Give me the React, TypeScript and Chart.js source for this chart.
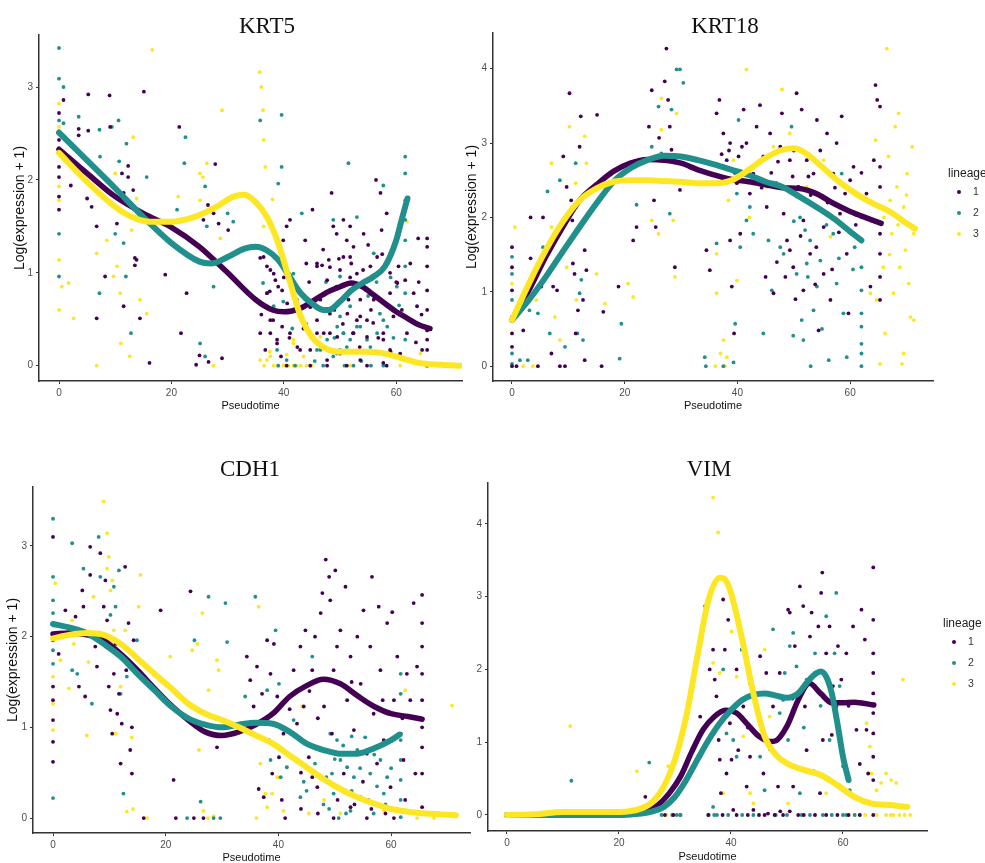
import React, { useEffect, useRef } from "react";
import { Chart, registerables } from "chart.js";

Chart.register(...registerables);

type P = [number, number];

const LINEAGE_LABELS = ["1", "2", "3"];
const LINEAGE_COLORS = ["#440154", "#21908C", "#FDE725"];
const X_TICKS = [0, 20, 40, 60];
const Y_TICKS_KRT5 = [0, 1, 2, 3];
const Y_TICKS_KRT18 = [0, 1, 2, 3, 4];
const Y_TICKS_CDH1 = [0, 1, 2, 3];
const Y_TICKS_VIM = [0, 1, 2, 3, 4];
const Y_TITLE = "Log(expression + 1)";
const X_TITLE = "Pseudotime";
const LEGEND_TITLE = "lineage";

// ---------------- KRT5 ----------------
const KRT5_L1_POINTS: P[] = [
  [0.8, 2.86], [5.2, 2.92], [9, 2.91], [15.1, 2.95], [21.4, 2.57], [27.8, 2.17], [0, 2.72], [0, 2.43], [0, 2.14], [0, 2.03],
  [0, 1.82], [0, 1.68], [2.1, 1.94], [3.5, 2.55], [3.5, 2.48], [5, 1.8], [5.8, 1.71], [5.2, 2.53], [6.7, 1.5], [7.7, 2.05],
  [8.2, 0.96], [9.1, 2.57], [10.3, 1.53], [11.2, 2.07], [11.5, 1.86], [12.3, 2.03], [12.3, 2.15], [13.2, 1.89], [13.5, 1.16],
  [13.5, 1.08], [13.4, 1.71], [14.4, 0.51], [13.8, 1.14], [11.5, 0.64], [6.7, 0.51], [16.1, 0.03], [18.9, 0.98], [21.7, 0.35],
  [22.7, 0.78], [24.4, 0.01], [25, 0.11], [25.7, 1.57], [26.5, 1.73], [27.5, 1.64], [28.4, 1.53], [30.1, 1.46], [26.6, 0.04],
  [29, 0.08], [36.4, 1.17], [37, 1.07], [38.2, 0.99], [39, 0.85], [35.8, 0.35], [36.7, 0.17], [37.6, 0.49], [39.9, 1.35],
  [40.5, 1.5], [41.1, 1.57], [41.7, 0.85], [42.3, 0.71], [42.9, 0.53], [43.8, 1.35], [45.1, 1.68], [45.9, 1.07], [46.5, 0.71],
  [47.1, 0.35], [48, 1.14], [48.5, 1.86], [48.8, 1.5], [49.4, 1.42], [50.6, 1.57], [51.2, 1.35], [51.8, 1.5], [52.4, 1.28],
  [53, 0.99], [53.6, 0.71], [54.2, 1.42], [54.8, 0.49], [55.4, 1.07], [56.4, 2.0], [57.2, 1.86], [57.4, 1.46], [58.3, 1.64],
  [58.9, 0.78], [59.5, 0.53], [60.4, 1.07], [61.6, 0.92], [61.9, 0.35], [63.1, 0.78], [63.7, 0.64], [63.9, 1.37], [64.6, 0.17],
  [65.5, 1.37], [65.5, 1.28], [65.5, 1.07], [65.5, 0.81], [65.5, 0.6], [65.5, 0.38], [65.5, 0.17], [65.5, 0], [65.5, 0.28],
  [50, 0.13], [47.7, 0], [51.2, 0], [54.8, 0], [58.3, 0], [60.7, 0.13], [42.9, 0.17], [44.7, 0], [40.5, 0], [38.8, 0.28],
  [49.4, 0.85], [51.5, 0.71], [56, 0.71], [52.4, 0.35], [57.7, 0.28], [48.2, 0.35], [45.9, 0.49], [53, 0.49], [39.5, 0.1],
  [41, 0.3], [43.5, 0.4], [44.5, 0.9], [46, 0.25], [47, 1.25], [49, 0.6], [50.5, 0.45], [52, 1.1], [53.5, 0.2], [55.5, 0.6],
  [56.8, 0.3], [57.5, 1.2], [59, 0.15], [60, 0.9], [62.5, 1.1], [63.5, 0.25], [64.5, 0.55], [55, 1.3], [49.8, 1.15], [44, 1.1],
  [36, 0.55], [37.5, 0.8], [40, 0.95], [35.8, 1.16], [37.6, 1.03], [38.5, 0.92], [37, 0.78], [39.7, 0.81], [40.6, 0.67],
  [38.1, 0.49], [39.7, 0.42], [37.6, 0.35], [41.1, 0.35], [38.8, 0.24], [42.4, 0.2], [45.9, 1.1], [46.8, 1.08], [48.2, 1.06],
  [50.6, 1.17], [51.8, 1.17], [50, 1.03], [47.7, 0.92], [51.8, 0.95], [54.1, 1.03], [56.6, 1.17], [58.9, 1.0], [60.2, 0.89],
  [44.7, 0.63], [48.2, 0.56], [51.3, 0.56], [53.6, 0.53], [55.9, 0.46], [45.9, 0.35], [49.5, 0.31], [52.3, 0.35], [54.8, 0.31],
  [57.7, 0.35], [58.9, 0.17], [44.7, 0.17], [47.7, 0.06], [53.6, 0.06], [57.7, 0.03], [62.8, 0.05], [61, 0.6], [64, 0.9],
];
const KRT5_L2_POINTS: P[] = [
  [0, 3.42], [0, 3.09], [0.8, 3.0], [0, 2.64], [0, 1.42], [0, 0.96], [0.8, 2.61], [3.5, 2.68], [7.2, 2.54], [7.3, 2.25],
  [10.6, 2.64], [9.4, 2.57], [12, 2.39], [10.7, 2.2], [10, 1.42], [11.5, 1.32], [11.9, 0.96], [12.8, 0.35], [15.6, 2.03],
  [7.2, 0.78], [22.3, 2.18], [22.5, 2.46], [21, 1.68], [26, 1.93], [26.3, 1.5], [25.1, 0.24], [26, 0.1], [27.5, 0.85],
  [30, 1.64], [31, 1.55], [35.8, 2.64], [39.6, 2.7], [39.6, 2.14], [39, 1.96], [37, 0.78], [38.2, 0.64], [38.8, 0.17],
  [40.5, 0.06], [41.7, 0.99], [43.2, 1.64], [51.5, 2.18], [48.8, 1.57], [50, 0.96], [50, 0.53], [50.6, 0.35], [51.2, 0.2],
  [51.8, 0.64], [53, 1.6], [53.6, 0.42], [54.8, 0.28], [56, 1.21], [56.6, 0.35], [57.7, 1.94], [57.7, 0.49], [58.3, 0.13],
  [60.1, 0.85], [61.6, 2.25], [61.6, 2.07], [61.6, 1.78], [61.6, 1.57], [61.6, 1.35], [61.6, 1.07], [61.6, 0.78], [61.6, 0.53],
  [61.6, 0.28], [61.6, 0.06], [49.4, 0.13], [46.5, 0.17], [52.4, 0], [57.7, 0], [44, 0.45], [47.5, 0.9], [49, 0.3], [55, 0.75],
  [59, 0.95], [53.8, 0.05], [45.5, 0.05], [41.5, 0.4], [36.3, 0.89], [39.9, 0.69], [42.4, 0.63], [49.5, 0.42], [50.6, 0.35],
  [51.8, 0.28], [53, 0.42], [50, 0.17], [48.8, 0.1], [57.1, 0.56], [58.4, 0.42], [55.4, 0.2], [47.7, 0.28], [45.9, 0.17],
  [42.9, 0.53], [39, 0], [42, 0], [47, 0], [50.8, 0], [55.5, 0], [59.5, 0.3], [56.5, 0.9], [60.5, 0.65],
];
const KRT5_L3_POINTS: P[] = [
  [0, 2.82], [0, 2.57], [0, 1.93], [0, 1.78], [0, 1.14], [0, 0.6], [0.5, 0.85], [1.7, 0.89], [2.6, 0.51], [6.7, 0],
  [6.7, 1.21], [8.5, 1.35], [9.7, 0.96], [10, 2.07], [10.3, 1.07], [10.9, 0.78], [11, 0.24], [12.6, 0.1], [12.9, 1.46],
  [13.2, 2.46], [13.8, 1.8], [14.4, 0.71], [15.6, 0.56], [16.6, 3.4], [21.2, 1.82], [25.1, 2.07], [25.6, 2.03], [26.3, 2.18],
  [25.1, 1.78], [29, 2.75], [28.7, 1.37], [27.5, 0], [35.7, 3.16], [36, 3.0], [36.3, 2.75], [36.4, 2.43], [36.7, 2.14],
  [36.4, 1.5], [38, 1.79], [37, 0.06], [38.2, 0], [39.9, 0], [41.7, 0], [41.7, 0.24], [43.5, 0.1], [46.5, 0.31], [51.8, 0],
  [61.9, 1.55], [64.3, 0.13], [60.7, 0], [43, 0], [45, 0], [37.5, 0.15], [40.5, 0.12], [35.8, 0.06], [37.6, 0.1], [41.7, 0.28],
  [36.5, 0], [39, 0], [40.8, 0], [42.3, 0], [44, 0],
];
const KRT5_L1_CURVE: P[] = [
  [0, 2.33], [5, 2.07], [10, 1.82], [15, 1.64], [20, 1.49], [25, 1.28], [30, 1.0], [35, 0.71], [38, 0.6], [40, 0.58],
  [43, 0.62], [45, 0.69], [48, 0.8], [50, 0.85], [52, 0.89], [54, 0.85], [56, 0.76], [58, 0.67], [60, 0.58], [62, 0.51],
  [64, 0.44], [66, 0.4],
];
const KRT5_L2_CURVE: P[] = [
  [0, 2.51], [5, 2.21], [10, 1.91], [15, 1.6], [20, 1.32], [25, 1.12], [27, 1.1], [30, 1.17], [33, 1.26], [35, 1.28],
  [37, 1.24], [39, 1.14], [41, 0.96], [43, 0.78], [45, 0.67], [47, 0.6], [48, 0.6], [50, 0.69], [52, 0.81], [54, 0.89],
  [56, 0.96], [58, 1.07], [60, 1.35], [61, 1.58], [62, 1.8],
];
const KRT5_L3_CURVE: P[] = [
  [0, 2.29], [5, 1.98], [10, 1.71], [13, 1.6], [16, 1.55], [20, 1.55], [24, 1.6], [28, 1.71], [31, 1.82], [33, 1.84],
  [35, 1.76], [37, 1.6], [39, 1.32], [41, 0.92], [43, 0.53], [45, 0.31], [47, 0.2], [50, 0.15], [55, 0.15], [58, 0.13],
  [61, 0.08], [64, 0.03], [68, 0.01], [71.5, 0],
];

// ---------------- KRT18 ----------------
const KRT18_L1_POINTS: P[] = [
  [0, 1.6], [0, 1.33], [0, 1.02], [0, 0.66], [0, 0.44], [0, 0.26], [0, 0], [0.8, 0], [3.3, 2.0], [3.3, 1.45], [2, 0.48],
  [4.6, 0], [5.2, 1.07], [5.5, 2.0], [7.3, 1.07], [7, 0.17], [8, 1.02], [8.5, 0], [9.1, 2.82], [9.4, 0], [9.7, 2.41],
  [10.2, 3.67], [10.5, 2.23], [10.7, 1.96], [10.8, 1.38], [11.1, 1.24], [11.3, 0.44], [11.7, 0.75], [12, 2.95], [12.2, 3.36],
  [12.6, 0.89], [12.9, 1.56], [13.2, 1.29], [12.9, 0.08], [15.1, 3.38], [15.9, 0], [16.2, 0.73], [18.9, 1.07], [21.5, 1.69],
  [22.1, 1.87], [24.3, 3.22], [24.8, 3.71], [25.2, 2.23], [25.5, 1.87], [26.1, 3.07], [27.1, 3.83], [27.7, 3.58], [27.4, 4.27],
  [28, 3.22], [28.3, 2.91], [28.9, 1.33], [29.8, 2.37], [34.5, 1.56], [35.1, 1.29], [36.3, 3.4], [36.8, 3.58], [37.5, 3.13],
  [38.1, 2.77], [38.7, 3.0], [38.7, 1.69], [39, 1.07], [39.4, 0.44], [39.9, 2.46], [40.2, 2.82], [40.5, 1.78], [41.1, 3.45],
  [41.6, 3.0], [42.2, 2.32], [42.8, 2.59], [43.4, 3.22], [44, 3.51], [44.6, 2.82], [45.2, 2.14], [45.8, 3.13], [46.4, 0.98],
  [46.9, 2.46], [47.6, 2.95], [47.9, 3.4], [48.2, 2.05], [48.8, 1.69], [49.3, 2.77], [49.9, 1.33], [50.5, 3.67], [50.8, 2.41],
  [51.4, 3.45], [51.7, 1.96], [52.3, 2.77], [52.9, 1.51], [53.5, 2.59], [54.1, 3.31], [54.4, 0.48], [55.3, 1.87], [55.9, 3.13],
  [56.5, 0.89], [57, 2.59], [57.6, 3.0], [58.2, 2.05], [58.5, 3.36], [59.1, 2.32], [59.4, 1.51], [59.7, 0.71], [60.6, 2.68],
  [62.9, 2.32], [63.6, 1.07], [64.5, 3.78], [64.8, 3.58], [65.3, 3.49], [65.3, 2.68], [65.3, 2.41], [65.3, 2.14], [65.3, 1.78],
  [65.3, 1.51], [65.3, 1.2], [65.3, 0.89], [64.2, 2.77], [49.3, 1.56], [55.3, 1.24], [51.7, 1.02], [38.5, 2.9], [39.5, 2.6],
  [43, 2.7], [46, 2.6], [50, 2.9], [53, 2.3], [56, 2.2], [58, 1.8], [61, 1.9], [62, 2.6], [45, 1.2], [47, 1.4], [53.8, 1.1],
  [37.2, 2.85], [40.8, 2.95], [44.3, 2.4], [47.2, 2.75], [49.8, 2.55], [52.6, 2.55], [54.7, 2.9], [57.3, 2.4], [60, 2.5],
  [48.5, 1.2], [51.2, 1.75], [54, 1.6], [56.8, 1.3], [50.3, 0.9],
];
const KRT18_L2_POINTS: P[] = [
  [0, 1.47], [0, 1.24], [0, 0.89], [0, 0.17], [0, 0.03], [1.4, 0.08], [2.8, 0.08], [3.1, 0.75], [4.6, 0.71], [5.5, 1.6],
  [6.3, 2.35], [6.7, 0.44], [8.5, 2.5], [9.4, 0.26], [10.5, 2.1], [11.3, 2.73], [11.6, 0.44], [11.4, 2.14], [12, 0.98],
  [12.3, 1.16], [12.6, 0.35], [19.1, 0.1], [19.4, 0.57], [22.1, 2.17], [24.8, 2.95], [26, 3.49], [26.5, 2.86], [28.3, 3.45],
  [29.2, 3.99], [29.8, 3.99], [30.4, 3.81], [28, 2.05], [34.2, 0.12], [34.4, 0], [36.3, 1.65], [37.5, 0], [39.3, 0.05],
  [39.6, 0.57], [39.9, 2.32], [40.2, 3.31], [40.5, 1.6], [41.6, 1.96], [42.2, 2.14], [42.8, 1.78], [44.6, 0.44], [45.5, 1.69],
  [46.1, 1.02], [47.6, 1.6], [48.2, 1.51], [49.6, 3.22], [49.9, 0.41], [50.5, 1.24], [50.8, 2.41], [51.1, 2.0], [51.4, 0.62],
  [51.7, 0.35], [52, 1.83], [52.3, 1.38], [52.9, 1.69], [53.5, 0.75], [54.1, 1.07], [54.7, 1.42], [56.2, 0.08], [57, 1.78],
  [57.6, 1.11], [58.5, 2.59], [58.8, 0.71], [59.4, 0.12], [60, 2.37], [62, 2.0], [62, 1.69], [62, 1.33], [62, 1.02], [62, 0.71],
  [62, 0.53], [62, 0.3], [62, 0.17], [62, 0], [53, 0], [55, 0.5], [60.5, 1.3], [50, 1.95], [52.5, 1.2], [55.8, 1.9],
  [58, 1.45], [60.8, 1.6],
];
const KRT18_L3_POINTS: P[] = [
  [0, 1.11], [0, 0.44], [0.5, 1.87], [2, 0], [3.7, 0], [4.3, 0.89], [7, 1.87], [7, 2.73], [7.6, 0.66], [8.5, 0.35],
  [9.7, 1.33], [10.2, 3.22], [11.3, 2.46], [11.4, 0.89], [12.9, 3.09], [13.2, 2.73], [15, 1.24], [16.5, 0.84], [20.6, 1.11],
  [21.5, 0.93], [24.8, 1.96], [26, 1.78], [26.5, 3.6], [26.5, 3.18], [28.6, 1.96], [28.9, 1.2], [29.2, 3.4], [36.1, 0],
  [37, 0.17], [37.5, 0.35], [37.8, 0], [38.1, 0.12], [36.3, 1.51], [36.3, 0.98], [38.4, 2.23], [39.3, 2.77], [39.9, 1.15],
  [41.6, 3.99], [42.1, 2.0], [45.2, 2.41], [46.4, 2.95], [47.9, 3.72], [49.3, 3.13], [52.3, 2.41], [55.3, 2.77], [56.5, 1.74],
  [63.6, 0.98], [64.5, 3.04], [65.3, 0.03], [65.9, 1.33], [66.5, 4.27], [66.8, 2.82], [67.1, 2.23], [67.4, 1.78], [67.7, 0.98],
  [68, 3.22], [68.3, 2.41], [68.6, 3.4], [68.8, 1.33], [69.2, 0.03], [69.5, 2.14], [69.8, 1.56], [70.1, 2.59], [70.4, 1.11],
  [70.7, 0.66], [71, 2.95], [71.3, 0.62], [71.3, 1.78], [69.5, 0.17], [66.2, 0.44], [64.7, 0.89], [67, 1.5], [68.5, 1.9],
  [70, 2.3], [66, 2.0],
];
const KRT18_L1_CURVE: P[] = [
  [0, 0.62], [3, 1.02], [6, 1.47], [9, 1.87], [12, 2.23], [15, 2.44], [18, 2.62], [21, 2.73], [24, 2.78], [27, 2.77],
  [30, 2.73], [33, 2.64], [36, 2.57], [39, 2.51], [42, 2.48], [45, 2.44], [48, 2.4], [51, 2.39], [54, 2.32], [57, 2.19],
  [60, 2.08], [63, 1.99], [65.5, 1.92],
];
const KRT18_L2_CURVE: P[] = [
  [0, 0.62], [3, 0.89], [6, 1.2], [9, 1.54], [12, 1.87], [15, 2.19], [18, 2.48], [21, 2.66], [24, 2.77], [27, 2.83],
  [30, 2.82], [33, 2.77], [36, 2.71], [39, 2.64], [42, 2.57], [45, 2.48], [48, 2.41], [51, 2.28], [54, 2.14], [57, 1.99],
  [60, 1.81], [62, 1.69],
];
const KRT18_L3_CURVE: P[] = [
  [0, 0.62], [3, 1.11], [6, 1.56], [9, 1.94], [12, 2.23], [15, 2.39], [18, 2.48], [21, 2.5], [24, 2.5], [27, 2.49],
  [30, 2.48], [33, 2.46], [36, 2.46], [39, 2.5], [42, 2.64], [45, 2.8], [48, 2.91], [50, 2.93], [52, 2.87], [55, 2.68],
  [58, 2.48], [61, 2.32], [64, 2.19], [67, 2.08], [70, 1.92], [71.5, 1.85],
];

// ---------------- CDH1 ----------------
const CDH1_L1_POINTS: P[] = [
  [0, 3.1], [0, 1.45], [0, 1.3], [0, 1.08], [0, 0.84], [0, 0.62], [0, 1.96], [1, 1.81], [2.2, 2.29], [4, 2.22], [4.6, 1.45],
  [5.2, 2.51], [5.4, 2.33], [5.7, 1.34], [6.6, 2.99], [6.6, 2.68], [7.5, 1.89], [7.8, 1.67], [8.4, 2.92], [9, 2.33], [9.3, 2.62],
  [9.6, 2.18], [9.9, 1.45], [10.2, 1.19], [10.5, 0.93], [10.8, 1.59], [11.1, 1.92], [11.4, 1.15], [11.7, 1.37], [12, 0.6],
  [12.2, 1.04], [12.8, 2.77], [13, 1.63], [13.4, 2.15], [13.7, 0.75], [14, 0.49], [14.3, 1.96], [14, 1.0], [16.1, 0],
  [19.1, 2.29], [21.4, 0.42], [21.8, 0], [24.4, 2.5], [25, 0], [26.7, 0], [29.1, 0.78], [34.4, 1.78], [35, 1.52], [35.6, 1.23],
  [36.2, 1.67], [36.5, 0.32], [37.1, 1.37], [37.4, 0.23], [38, 1.96], [38.3, 0.86], [38.6, 1.59], [38.9, 0.49], [39.2, 1.92],
  [39.8, 1.34], [40.1, 0.67], [40.6, 0.2], [40.9, 0.93], [41.2, 0], [42.7, 1.63], [43.3, 1.04], [43.9, 1.89], [44.5, 1.23],
  [44.8, 2.07], [45.4, 0.67], [46, 1.63], [46.5, 2.0], [46.9, 0.34], [47.5, 2.26], [47.8, 2.48], [48.1, 1.23], [48.4, 2.85],
  [49, 2.66], [49.2, 2.4], [49.5, 0.93], [49.8, 1.63], [50.1, 2.73], [50.4, 1.89], [51, 2.07], [51.6, 0.49], [51.9, 2.55],
  [52.2, 1.3], [52.8, 1.78], [53.4, 0.97], [54, 2.0], [54.6, 1.48], [55.1, 2.29], [55.7, 0.71], [56.3, 1.89], [56.6, 2.66],
  [56.9, 1.15], [57.8, 2.33], [58.1, 1.63], [58.7, 0.86], [59.3, 2.15], [59.9, 0.34], [60.2, 2.27], [60.5, 1.3], [61.1, 1.78],
  [61.7, 0.93], [62.2, 0.64], [62.8, 1.59], [63.4, 1.3], [64, 2.37], [64.3, 0.49], [64.6, 1.67], [65.5, 2.46], [65.5, 2.15],
  [65.5, 1.89], [65.5, 1.59], [65.5, 1.3], [65.5, 1.0], [65.5, 0.78], [65.5, 0.49], [65.5, 0.12], [55.7, 0], [60.5, 0],
  [49.8, 0], [52.8, 0.12], [42, 1.2], [44, 0.5], [47, 1.1], [53, 1.5], [57.5, 0.6], [62, 1.1], [45.5, 1.4], [58.5, 1.3],
  [44, 0.1], [47, 0.05], [50.5, 0.2], [53.5, 0.15], [56.5, 0.1], [59, 0.05], [62.5, 0.2], [46, 0.45], [55, 0.4],
];
const CDH1_L2_POINTS: P[] = [
  [0, 3.3], [0, 2.66], [0, 2.4], [0, 2.26], [0, 1.85], [0, 1.7], [0, 0.22], [3.4, 3.03], [3.4, 1.63], [4.3, 1.59], [5.4, 2.75],
  [6.9, 1.26], [8.1, 3.1], [8.4, 2.66], [10.2, 2.24], [10.8, 2.55], [11.1, 2.33], [11.7, 2.73], [12, 1.37], [12.5, 0.27],
  [13.1, 1.56], [14.9, 1.96], [23.8, 0], [25.1, 1.96], [26.2, 0.18], [27.6, 2.44], [28.5, 0], [29.7, 0], [30.6, 2.37],
  [30.9, 1.94], [34.1, 1.34], [35.9, 2.44], [38, 1.41], [38.6, 0.64], [39.5, 2.07], [40.1, 1.48], [40.4, 0.45], [41.5, 0.56],
  [42.7, 1.08], [43.9, 0.23], [46, 1.78], [47.5, 0.75], [49.2, 0.93], [49.5, 0.49], [49.8, 0.27], [50.4, 0.86], [50.7, 0],
  [51, 0.64], [51.6, 0.31], [52.2, 0.56], [52.8, 0.08], [53.4, 0.45], [54, 0.75], [54.6, 0.23], [55.4, 0.89], [56.3, 0.49],
  [56.9, 0.05], [58.1, 0.64], [58.7, 0.27], [59.3, 0.45], [61.7, 1.59], [61.7, 1.37], [61.7, 1.12], [61.7, 0.86], [61.7, 0.64],
  [61.7, 0.42], [61.7, 0.2], [61.7, 0.01], [44.5, 0.4], [48, 0.15], [53, 0.9], [57.5, 0.35], [45, 0.3], [46.5, 0.6],
  [48.5, 0.45], [50, 0.65], [51.5, 0.8], [53, 0.3], [54.5, 0.55], [56, 0.2], [57, 0.7], [59, 0.15], [60, 0.55], [49, 0.1],
  [52, 0.05],
];
const CDH1_L3_POINTS: P[] = [
  [0, 0.97], [0, 1.26], [0, 1.56], [0.4, 2.59], [1.3, 1.74], [2.8, 1.43], [3.4, 2.18], [3.7, 1.92], [6, 0.91], [6.3, 1.72],
  [7.2, 2.44], [9, 3.49], [9.6, 3.14], [9.6, 2.75], [9.9, 2.88], [10.2, 2.51], [10.5, 2.62], [10.8, 2.07], [11.1, 0.93],
  [12, 1.45], [12.8, 2.07], [13.1, 0.07], [14, 0.89], [14.2, 0.1], [15.2, 2.33], [15.5, 2.68], [16.7, 0], [20.8, 1.78],
  [24.7, 1.85], [25.6, 1.92], [25.9, 0.75], [26.5, 2.26], [26.7, 0.08], [27.6, 1.41], [29.1, 1.74], [29.4, 1.63], [35.6, 1.04],
  [36.1, 0], [36.5, 2.33], [36.8, 0.6], [37.7, 0.27], [38, 0.12], [38.9, 0.27], [39.8, 0.45], [40.9, 0.08], [41.5, 0.56],
  [44.2, 1.23], [45.4, 0.05], [48.1, 0.2], [51, 0.05], [58.7, 0.08], [62.5, 1.41], [64.6, 0], [67.6, 0], [70.8, 1.24],
  [27.5, 0], [28.5, 0.02],
];
const CDH1_L1_CURVE: P[] = [
  [0, 2.03], [3, 2.04], [6, 2.02], [9, 1.96], [12, 1.81], [15, 1.63], [18, 1.43], [21, 1.24], [24, 1.08], [27, 0.95],
  [30, 0.91], [33, 0.95], [36, 1.03], [39, 1.15], [42, 1.34], [45, 1.46], [48, 1.53], [51, 1.48], [54, 1.35], [57, 1.23],
  [60, 1.15], [63, 1.12], [65.5, 1.09],
];
const CDH1_L2_CURVE: P[] = [
  [0, 2.14], [3, 2.1], [6, 2.04], [9, 1.92], [12, 1.78], [15, 1.59], [18, 1.41], [21, 1.23], [24, 1.1], [27, 1.03],
  [30, 1.0], [33, 1.03], [36, 1.05], [39, 1.04], [42, 0.95], [45, 0.82], [48, 0.75], [51, 0.71], [54, 0.71], [57, 0.77],
  [60, 0.86], [61.5, 0.92],
];
const CDH1_L3_CURVE: P[] = [
  [0, 1.98], [3, 2.02], [6, 2.04], [9, 2.02], [12, 1.92], [15, 1.76], [18, 1.59], [21, 1.43], [24, 1.26], [27, 1.15],
  [30, 1.08], [33, 1.0], [36, 0.91], [39, 0.82], [42, 0.69], [45, 0.56], [48, 0.43], [51, 0.32], [54, 0.23], [57, 0.16],
  [60, 0.1], [63, 0.07], [66, 0.05], [69, 0.04], [71.5, 0.03],
];

// ---------------- VIM ----------------
const VIM_L1_POINTS: P[] = [
  [0, 0], [24.7, 0.25], [27.3, 0.3], [28.2, 0], [29.7, 0], [34.5, 1.35], [35.4, 2.87], [36.2, 2.0], [36.8, 2.27], [37.1, 1.86],
  [37.4, 1.63], [37.8, 1.03], [38, 0.76], [38.2, 0.3], [38.6, 2.96], [38.9, 2.27], [39.2, 0.57], [39.5, 2.68], [39.8, 1.26],
  [40.1, 0.76], [40.4, 0.07], [41, 2.0], [41.3, 0.89], [42.2, 1.49], [42.8, 0.39], [43.4, 0.8], [44, 0.07], [44.6, 1.49],
  [45.2, 2.18], [45.8, 0.57], [46.3, 1.95], [46.6, 0.02], [47.5, 1.49], [47.8, 0], [48.4, 0.39], [48.7, 1.95], [49.3, 0],
  [49.6, 1.17], [50.2, 2.82], [50.5, 2.78], [51.1, 0.39], [51.4, 2.32], [52, 0], [52.3, 3.14], [52.9, 2.87], [53.2, 1.49],
  [53.5, 0.89], [54.1, 2.45], [54.4, 2.78], [55, 1.95], [55.6, 2.59], [55.9, 0.3], [56.3, 3.33], [56.1, 3.05], [56.4, 1.03],
  [57, 2.22], [57.6, 2.59], [58.2, 1.77], [58.8, 1.49], [59.1, 2.32], [59.7, 1.86], [60, 0.34], [60.6, 2.22], [61.8, 2.59],
  [62.4, 1.17], [63.3, 2.82], [63.9, 2.41], [64.2, 1.17], [64.5, 0.57], [65.4, 3.4], [65.4, 2.68], [65.4, 2.22], [65.4, 1.95],
  [65.4, 1.67], [65.4, 1.4], [65.4, 1.12], [65.4, 0.8], [65.4, 0.48], [65.4, 0.16], [65.4, 0], [43, 1.2], [47, 0.9],
  [51, 1.6], [54.8, 0.6], [58, 1.1], [61, 1.5], [63, 0.7], [50.5, 0.05], [48.8, 0.05], [36, 0], [38.5, 0], [41, 0], [43, 0],
  [45, 0], [46, 0], [53, 0], [55, 0], [57, 0], [59, 0], [61, 0], [63, 0],
];
const VIM_L2_POINTS: P[] = [
  [0, 0], [11.5, 0.47], [25.4, 0.72], [27.6, 0], [29.1, 0.6], [30.3, 0], [30.9, 0], [35.9, 0], [36.8, 0.11], [38.6, 2.0],
  [39.2, 1.12], [40.4, 1.03], [41, 0.8], [41.9, 2.27], [43.4, 1.81], [45.2, 0.8], [46, 0.34], [47.5, 2.55], [48.7, 1.4],
  [49.3, 1.58], [49.6, 1.95], [50.2, 1.03], [50.5, 2.32], [51.1, 2.5], [51.7, 2.04], [52.3, 0.3], [52.6, 0], [53.5, 1.86],
  [54.1, 0], [55, 2.22], [56.4, 0], [57, 2.73], [57.6, 1.03], [58.5, 2.22], [58.8, 3.05], [59.4, 1.77], [60, 0.67], [60.6, 0],
  [61.2, 0.34], [62.1, 0], [29.5, 0], [31, 0], [37.5, 0], [53, 1.2], [56, 1.5], [37, 0], [39.5, 0], [42, 0], [44, 0], [48, 0],
  [50, 0], [58, 0], [60, 0],
];
const VIM_L3_POINTS: P[] = [
  [0, 0], [3.6, 0], [11.3, 1.22], [23.2, 0.6], [28.8, 0.67], [30.9, 0], [36.8, 4.36], [37.7, 3.88], [36.8, 2.09], [38, 1.95],
  [38.6, 0.3], [40.1, 2.52], [41, 1.9], [42.2, 1.08], [43.4, 0.3], [44, 0.16], [46, 2.27], [46.9, 1.35], [50.2, 0.16],
  [57, 0.3], [63, 0], [64.2, 1.26], [64.8, 0.94], [65.1, 0.57], [66, 0.34], [66.8, 0.44], [67.7, 0.57], [68.6, 0.48],
  [69.5, 0.44], [70.7, 1.86], [67.7, 0], [70.1, 0], [66, 0], [68.5, 0], [71, 0], [28.5, 0], [55, 0], [60, 0], [62, 0],
  [64, 0], [69, 0], [72, 0],
];
const VIM_L1_CURVE: P[] = [
  [0, 0], [10, 0], [20, 0], [23, 0.02], [25, 0.05], [27, 0.14], [29, 0.3], [31, 0.53], [33, 0.87], [35, 1.17], [37, 1.35],
  [39, 1.44], [41, 1.4], [43, 1.24], [45, 1.08], [47, 1.01], [48, 1.02], [50, 1.22], [52, 1.58], [54, 1.81], [56, 1.67],
  [58, 1.54], [60, 1.54], [62, 1.55], [65.5, 1.51],
];
const VIM_L2_CURVE: P[] = [
  [0, 0], [10, 0], [20, 0], [24, 0.02], [26, 0.05], [28, 0.11], [30, 0.25], [32, 0.48], [34, 0.76], [36, 1.03], [38, 1.26],
  [40, 1.44], [42, 1.58], [44, 1.65], [46, 1.67], [48, 1.64], [50, 1.61], [52, 1.67], [54, 1.86], [56, 1.97], [57, 1.9],
  [58, 1.67], [59, 1.26], [60, 0.8], [61, 0.48],
];
const VIM_L3_CURVE: P[] = [
  [0, 0], [5, 0.01], [10, 0.04], [15, 0.04], [20, 0.04], [24, 0.09], [26, 0.18], [28, 0.39], [30, 0.76], [32, 1.35],
  [34, 2.18], [36, 2.96], [38, 3.26], [39, 3.23], [40, 3.05], [42, 2.41], [44, 1.67], [46, 1.08], [48, 0.83], [50, 0.71],
  [53, 0.62], [56, 0.55], [59, 0.41], [62, 0.25], [65, 0.16], [68, 0.14], [71.5, 0.11],
];

// ---------------- layout ----------------
const SANS = "'Liberation Sans', Arial, sans-serif";
const SERIF = "'Liberation Serif', 'Times New Roman', serif";
const CURVE_WIDTHS = [5.5, 6, 6];

type PanelDef = {
  title: string;
  titleX: number;
  titleY: number;
  box: { left: number; top: number; width: number; height: number };
  pad: { top: number; right: number };
  yW: number;
  xH: number;
  xr: [number, number];
  yr: [number, number];
  yTicks: number[];
  yTitlePad: number | null;
  points: P[][];
  curves: P[][];
  legend: { x: number; y: number } | null;
};

const PANELS: PanelDef[] = [
  {
    title: "KRT5", titleX: 267, titleY: 25,
    box: { left: 0, top: 0, width: 470, height: 415 }, pad: { top: 35, right: 8 },
    yW: 39, xH: 34, xr: [-3.56, 71.7], yr: [-0.165, 3.56], yTicks: Y_TICKS_KRT5, yTitlePad: 11.6,
    points: [KRT5_L1_POINTS, KRT5_L2_POINTS, KRT5_L3_POINTS],
    curves: [KRT5_L1_CURVE, KRT5_L2_CURVE, KRT5_L3_CURVE], legend: null,
  },
  {
    title: "KRT18", titleX: 725, titleY: 25,
    box: { left: 460, top: 0, width: 525, height: 415 }, pad: { top: 33, right: 52 },
    yW: 33, xH: 34, xr: [-3.37, 74.7], yr: [-0.2, 4.48], yTicks: Y_TICKS_KRT18, yTitlePad: 3.6,
    points: [KRT18_L1_POINTS, KRT18_L2_POINTS, KRT18_L3_POINTS],
    curves: [KRT18_L1_CURVE, KRT18_L2_CURVE, KRT18_L3_CURVE], legend: { x: 948, y: 173 },
  },
  {
    title: "CDH1", titleX: 250, titleY: 468,
    box: { left: 0, top: 440, width: 478, height: 427 }, pad: { top: 47, right: 8 },
    yW: 33, xH: 34, xr: [-3.55, 74.0], yr: [-0.165, 3.65], yTicks: Y_TICKS_CDH1, yTitlePad: 4.6,
    points: [CDH1_L1_POINTS, CDH1_L2_POINTS, CDH1_L3_POINTS],
    curves: [CDH1_L1_CURVE, CDH1_L2_CURVE, CDH1_L3_CURVE], legend: null,
  },
  {
    title: "VIM", titleX: 709, titleY: 468,
    box: { left: 466, top: 440, width: 519, height: 426 }, pad: { top: 43, right: 58 },
    yW: 22, xH: 35, xr: [-3.39, 75], yr: [-0.22, 4.56], yTicks: Y_TICKS_VIM, yTitlePad: null,
    points: [VIM_L1_POINTS, VIM_L2_POINTS, VIM_L3_POINTS],
    curves: [VIM_L1_CURVE, VIM_L2_CURVE, VIM_L3_CURVE], legend: { x: 943, y: 623 },
  },
];

function Panel({ def }: { def: PanelDef }) {
  const ref = useRef<HTMLCanvasElement>(null);
  useEffect(() => {
    if (!ref.current) return;
    const datasets: any[] = [];
    def.curves.forEach((c, i) => {
      datasets.push({
        label: "curve " + LINEAGE_LABELS[i],
        data: c.map(([x, y]) => ({ x, y })),
        showLine: true,
        borderColor: LINEAGE_COLORS[i],
        backgroundColor: LINEAGE_COLORS[i],
        borderWidth: CURVE_WIDTHS[i],
        pointRadius: 0,
        cubicInterpolationMode: "monotone",
        fill: false,
        borderCapStyle: "round",
        borderJoinStyle: "round",
        order: 3 - i,
      });
    });
    def.points.forEach((pts, i) => {
      datasets.push({
        label: LINEAGE_LABELS[i],
        data: pts.map(([x, y]) => ({ x, y })),
        showLine: false,
        backgroundColor: LINEAGE_COLORS[i],
        borderColor: LINEAGE_COLORS[i],
        pointRadius: 1.9,
        pointBorderWidth: 0,
        borderWidth: 0,
        order: 10 + i,
      });
    });
    const chart = new Chart(ref.current, {
      type: "scatter",
      data: { datasets },
      options: {
        animation: false,
        responsive: false,
        maintainAspectRatio: false,
        events: [],
        layout: { padding: { top: def.pad.top, right: def.pad.right, left: 0, bottom: 0 } },
        plugins: { legend: { display: false }, tooltip: { enabled: false }, title: { display: false } },
        scales: {
          x: {
            type: "linear",
            min: def.xr[0],
            max: def.xr[1],
            afterBuildTicks: (s: any) => {
              s.ticks = X_TICKS.map((v) => ({ value: v }));
            },
            afterFit: (s: any) => {
              s.height = def.xH;
            },
            grid: { drawOnChartArea: false, drawTicks: true, tickLength: 3, color: "#333", tickColor: "#333" },
            border: { display: true, color: "#333", width: 1.5 },
            ticks: { color: "#4d4d4d", font: { size: 10, family: SANS }, padding: 3, autoSkip: false, maxRotation: 0 },
            title: { display: true, text: X_TITLE, color: "#111", font: { size: 11, family: SANS }, padding: { top: 0, bottom: 2 } },
          },
          y: {
            type: "linear",
            min: def.yr[0],
            max: def.yr[1],
            afterBuildTicks: (s: any) => {
              s.ticks = def.yTicks.map((v) => ({ value: v }));
            },
            afterFit: (s: any) => {
              s.width = def.yW;
            },
            grid: { drawOnChartArea: false, drawTicks: true, tickLength: 3, color: "#333", tickColor: "#333" },
            border: { display: true, color: "#333", width: 1.5 },
            ticks: { color: "#4d4d4d", font: { size: 10, family: SANS }, padding: 3, autoSkip: false },
            title: {
              display: def.yTitlePad !== null,
              text: Y_TITLE,
              color: "#111",
              font: { size: 14, family: SANS },
              padding: { top: def.yTitlePad ?? 0, bottom: 0 },
            },
          },
        },
      } as any,
    });
    return () => chart.destroy();
  }, [def]);
  return (
    <canvas
      ref={ref}
      width={def.box.width}
      height={def.box.height}
      style={{
        position: "absolute",
        left: def.box.left,
        top: def.box.top,
        width: def.box.width,
        height: def.box.height,
      }}
    />
  );
}

function Legend({ x, y }: { x: number; y: number }) {
  return (
    <div style={{ position: "absolute", left: x, top: y - 8, fontFamily: SANS, color: "#222" }}>
      <div style={{ fontSize: 12, lineHeight: "16px" }}>{LEGEND_TITLE}</div>
      {LINEAGE_LABELS.map((l, i) => (
        <div key={l} style={{ position: "relative", height: 21, fontSize: 10.5, lineHeight: "21px" }}>
          <span
            style={{
              position: "absolute",
              left: 9,
              top: 8.5,
              width: 4,
              height: 4,
              borderRadius: 2,
              background: LINEAGE_COLORS[i],
            }}
          />
          <span style={{ position: "absolute", left: 25, top: 0, color: "#333" }}>{l}</span>
        </div>
      ))}
    </div>
  );
}

export default function App() {
  return (
    <div
      style={{
        position: "fixed",
        left: 0,
        top: 0,
        width: 985,
        height: 863,
        overflow: "hidden",
        background: "#fff",
      }}
    >
      {PANELS.map((p) => (
        <Panel key={p.title} def={p} />
      ))}
      {PANELS.map((p) => (
        <div
          key={"t" + p.title}
          style={{
            position: "absolute",
            left: p.titleX,
            top: p.titleY,
            transform: "translate(-50%, -50%)",
            fontFamily: SERIF,
            fontSize: 23,
            lineHeight: 1,
            color: "#111",
            whiteSpace: "nowrap",
          }}
        >
          {p.title}
        </div>
      ))}
      {PANELS.filter((p) => p.legend).map((p) => (
        <Legend key={"l" + p.title} x={p.legend!.x} y={p.legend!.y} />
      ))}
    </div>
  );
}
